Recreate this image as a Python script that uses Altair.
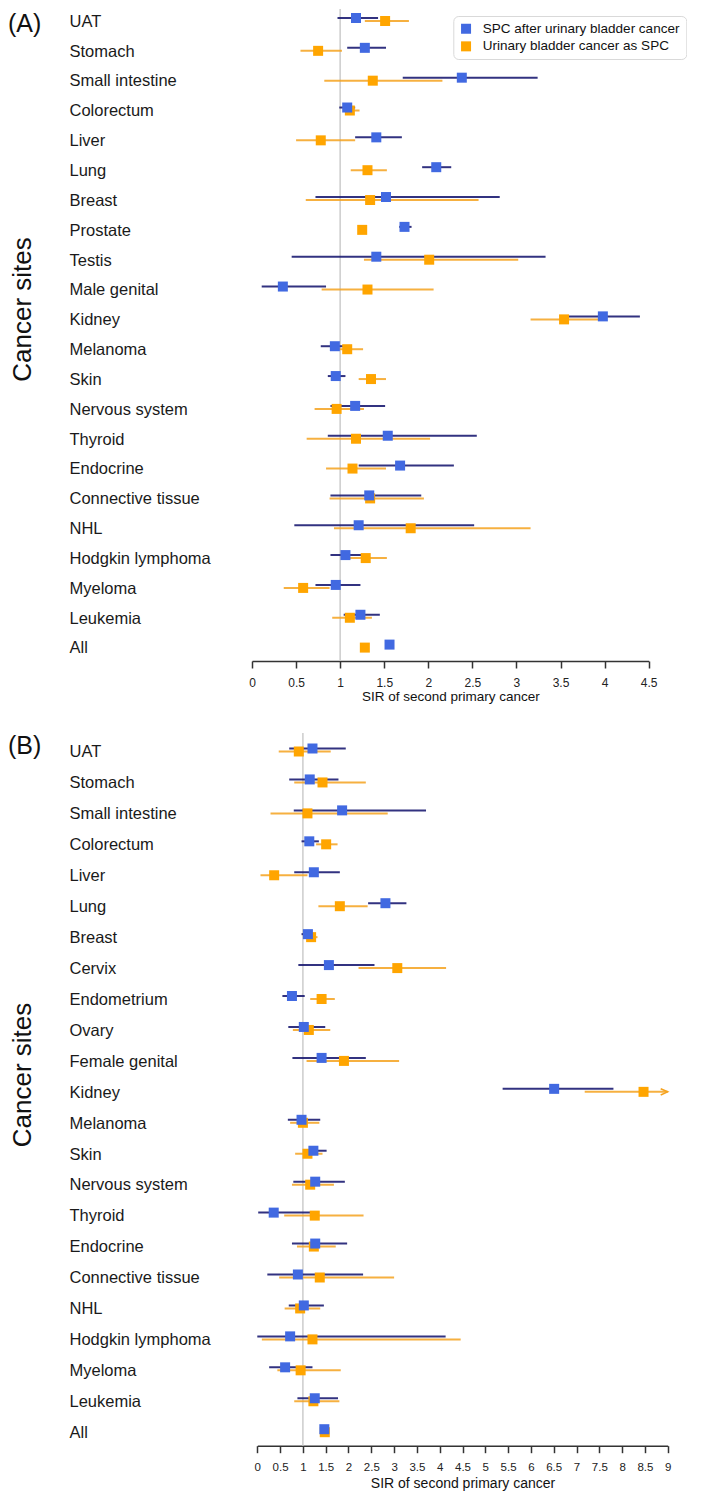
import altair as alt
import pandas as pd

SERIES = ["SPC after urinary bladder cancer", "Urinary bladder cancer as SPC"]
SQUARE_COLORS = ["#4169E1", "#FFA500"]
LINE_COLORS = ["#1c1c72", "#F5A21E"]

# ---------------- Panel A ----------------
sites_A = ["UAT", "Stomach", "Small intestine", "Colorectum", "Liver", "Lung", "Breast",
           "Prostate", "Testis", "Male genital", "Kidney", "Melanoma", "Skin",
           "Nervous system", "Thyroid", "Endocrine", "Connective tissue", "NHL",
           "Hodgkin lymphoma", "Myeloma", "Leukemia", "All"]
a_spc_est = [1.18, 1.28, 2.38, 1.08, 1.41, 2.09, 1.52, 1.73, 1.41, 0.35, 3.98, 0.94, 0.95,
             1.17, 1.54, 1.68, 1.33, 1.21, 1.06, 0.95, 1.23, 1.56]
a_spc_lo = [0.97, 1.08, 1.71, 0.99, 1.17, 1.93, 0.72, 1.67, 0.45, 0.11, 3.58, 0.78, 0.86,
            0.89, 0.86, 1.21, 0.89, 0.48, 0.89, 0.72, 1.04, 1.53]
a_spc_hi = [1.43, 1.52, 3.24, 1.17, 1.70, 2.26, 2.81, 1.81, 3.33, 0.84, 4.40, 1.10, 1.06,
            1.51, 2.55, 2.29, 1.92, 2.52, 1.26, 1.23, 1.45, 1.59]
a_ubc_est = [1.51, 0.75, 1.37, 1.11, 0.78, 1.31, 1.34, 1.25, 2.01, 1.31, 3.54, 1.08, 1.35,
             0.96, 1.18, 1.14, 1.34, 1.80, 1.29, 0.58, 1.11, 1.28]
a_ubc_lo = [1.28, 0.55, 0.82, 1.04, 0.50, 1.12, 0.61, 1.23, 1.27, 0.79, 3.16, 0.99, 1.21,
            0.71, 0.62, 0.84, 0.88, 0.93, 1.09, 0.36, 0.91, 1.26]
a_ubc_hi = [1.78, 1.02, 2.16, 1.22, 1.17, 1.53, 2.57, 1.27, 3.02, 2.06, 3.93, 1.26, 1.52,
            1.27, 2.02, 1.52, 1.95, 3.16, 1.53, 0.88, 1.36, 1.30]
ticks_A = [0, 0.5, 1, 1.5, 2, 2.5, 3, 3.5, 4, 4.5]

# ---------------- Panel B ----------------
sites_B = ["UAT", "Stomach", "Small intestine", "Colorectum", "Liver", "Lung", "Breast",
           "Cervix", "Endometrium", "Ovary", "Female genital", "Kidney", "Melanoma", "Skin",
           "Nervous system", "Thyroid", "Endocrine", "Connective tissue", "NHL",
           "Hodgkin lymphoma", "Myeloma", "Leukemia", "All"]
b_spc_est = [1.21, 1.15, 1.86, 1.14, 1.24, 2.81, 1.11, 1.57, 0.76, 1.02, 1.41, 6.51, 0.97,
             1.23, 1.27, 0.36, 1.27, 0.89, 1.02, 0.72, 0.61, 1.26, 1.47]
b_spc_lo = [0.70, 0.70, 0.80, 0.97, 0.81, 2.43, 0.97, 0.90, 0.55, 0.68, 0.77, 5.38, 0.67,
            1.01, 0.79, 0.02, 0.76, 0.22, 0.69, 0.00, 0.26, 0.88, 1.43]
b_spc_hi = [1.94, 1.78, 3.70, 1.35, 1.81, 3.27, 1.27, 2.57, 1.04, 1.49, 2.38, 7.81, 1.38,
            1.52, 1.92, 1.32, 1.97, 2.32, 1.46, 4.13, 1.21, 1.77, 1.51]
b_ubc_est = [0.91, 1.43, 1.10, 1.51, 0.37, 1.81, 1.18, 3.07, 1.41, 1.13, 1.90, 8.47, 1.00,
             1.10, 1.16, 1.26, 1.24, 1.37, 0.94, 1.21, 0.95, 1.23, 1.48]
b_ubc_lo = [0.47, 0.81, 0.29, 1.29, 0.07, 1.34, 1.07, 2.22, 1.16, 0.78, 1.08, 7.18, 0.72,
            0.83, 0.76, 0.59, 0.87, 0.48, 0.60, 0.10, 0.44, 0.81, 1.44]
b_ubc_hi = [1.61, 2.38, 2.86, 1.76, 1.10, 2.42, 1.32, 4.14, 1.70, 1.60, 3.11, 9.00, 1.36,
            1.43, 1.68, 2.33, 1.72, 3.00, 1.38, 4.46, 1.83, 1.80, 1.52]
ticks_B = [0, 0.5, 1, 1.5, 2, 2.5, 3, 3.5, 4, 4.5, 5, 5.5, 6, 6.5, 7, 7.5, 8, 8.5, 9]


def long_df(sites, e1, l1, h1, e2, l2, h2):
    rows = []
    for i, s in enumerate(sites):
        rows.append({"site": s, "series": SERIES[0], "est": e1[i], "lo": l1[i], "hi": h1[i]})
        rows.append({"site": s, "series": SERIES[1], "est": e2[i], "lo": l2[i], "hi": h2[i]})
    return pd.DataFrame(rows)


def panel(df, sites, letter, xmax, xticks, width, height, xrange, yrange, c):
    xscale = alt.Scale(domain=[0, xmax], nice=False, zero=False, range=xrange)
    xaxis = alt.Axis(values=xticks, format="~g", title="SIR of second primary cancer",
                     titleFont="Liberation Sans", titleFontSize=c["xtitle_fs"],
                     titleFontWeight="normal", titleColor="#111", titlePadding=c["xtitle_pad"],
                     labelFont=c["xlabel_font"], labelFontSize=c["xlabel_fs"], labelColor="#222",
                     labelPadding=9, tickSize=7, tickWidth=1.5, tickColor="#333",
                     domainColor="#333", domainWidth=1.5, grid=False, labelFlush=False,
                     labelOverlap=False)
    yaxis = alt.Axis(title="Cancer sites", titleAngle=270, titleX=c["title_x"],
                     titleY=c["title_y"], titleAlign="center", titleBaseline="alphabetic",
                     titleFont="Liberation Sans", titleFontSize=26, titleFontWeight="normal",
                     titleColor="#111", labelAlign="left", labelPadding=183,
                     labelFont="Liberation Sans", labelFontSize=16.5, labelColor="#1a1a1a",
                     labelOffset=1.8, labelLimit=300, ticks=False, tickSize=0, domain=False,
                     grid=False)
    yenc = alt.Y("site:N", sort=sites,
                 scale=alt.Scale(type="point", range=yrange, padding=0), axis=yaxis)
    legend = alt.Legend(title=None, orient="none", legendX=c["leg_x"], legendY=c["leg_y"],
                        symbolType="square", symbolSize=100, symbolStrokeWidth=0,
                        symbolOpacity=1, labelFont="Liberation Sans", labelFontSize=c["leg_fs"],
                        labelColor="#111", labelLimit=400, padding=c["leg_pad"],
                        rowPadding=c["leg_row"], labelOffset=10, strokeColor="#d9d9d9",
                        cornerRadius=5, fillColor="white")
    color = alt.Color("series:N", scale=alt.Scale(domain=SERIES, range=SQUARE_COLORS),
                      legend=legend)

    base = alt.Chart(df)
    ref = alt.Chart(pd.DataFrame({"ref": [1.0]})).mark_rule(
        color="#cccccc", strokeWidth=1.5).encode(
        x=alt.X("ref:Q", scale=xscale, axis=xaxis))
    ci_spc = base.transform_filter(alt.datum.series == SERIES[0]).mark_rule(
        color=LINE_COLORS[0], strokeWidth=2, opacity=0.9, yOffset=-1.5).encode(
        x=alt.X("lo:Q", scale=xscale, axis=xaxis), x2="hi:Q", y=yenc)
    ci_ubc = base.transform_filter(alt.datum.series == SERIES[1]).mark_rule(
        color=LINE_COLORS[1], strokeWidth=2, opacity=0.85, yOffset=1.5).encode(
        x=alt.X("lo:Q", scale=xscale, axis=xaxis), x2="hi:Q", y=yenc)
    sq_ubc = base.transform_filter(alt.datum.series == SERIES[1]).mark_square(
        size=100, opacity=1, yOffset=1.5).encode(
        x=alt.X("est:Q", scale=xscale, axis=xaxis), y=yenc, color=color)
    sq_spc = base.transform_filter(alt.datum.series == SERIES[0]).mark_square(
        size=100, opacity=1, yOffset=-1.5).encode(
        x=alt.X("est:Q", scale=xscale, axis=xaxis), y=yenc, color=color)
    arrow = base.transform_filter(
        (alt.datum.series == SERIES[1]) & (alt.datum.hi >= xmax)).mark_point(
        shape="M-2,-0.9L0,0L-2,0.9", filled=False, size=49, strokeWidth=1.5,
        color=LINE_COLORS[1], opacity=1, yOffset=1.5).encode(
        x=alt.X("hi:Q", scale=xscale, axis=xaxis), y=yenc)
    tag = alt.Chart(pd.DataFrame({"lab": [letter]})).mark_text(
        align="left", baseline="middle", font="Liberation Sans", fontSize=25,
        color="#111").encode(text="lab:N", x=alt.value(-244), y=alt.value(c["tag_y"]))

    return alt.layer(ref, ci_spc, ci_ubc, sq_ubc, sq_spc, arrow, tag).properties(
        width=width, height=height)


df_A = long_df(sites_A, a_spc_est, a_spc_lo, a_spc_hi, a_ubc_est, a_ubc_lo, a_ubc_hi)
df_B = long_df(sites_B, b_spc_est, b_spc_lo, b_spc_hi, b_ubc_est, b_ubc_lo, b_ubc_hi)

cfg_A = dict(xtitle_fs=13.5, xtitle_pad=1.5, xlabel_font="Liberation Sans", xlabel_fs=12,
             title_x=-222, title_y=300, leg_x=201.3, leg_y=7.0, leg_fs=13.5,
             leg_pad=6, leg_row=2.6, tag_y=14.5)
cfg_B = dict(xtitle_fs=14, xtitle_pad=3,
             xlabel_font="'Liberation Sans Narrow', 'Arial Narrow', 'Liberation Sans'",
             xlabel_fs=11.5, title_x=-222, title_y=341.5, leg_x=214.7,
             leg_y=15.7, leg_fs=14, leg_pad=5.3, leg_row=4, tag_y=12.5)

panel_A = panel(df_A, sites_A, "(A)", 4.5, ticks_A, 396.7, 652, [0, 396.7],
                [10.5, 637.1], cfg_A)
panel_B = panel(df_B, sites_B, "(B)", 9, ticks_B, 415.7, 712.7, [5.3, 415.7],
                [17, 697.7], cfg_B)

chart = alt.vconcat(panel_A, panel_B, spacing=29).properties(
    padding={"left": 0, "top": 0, "right": 0, "bottom": 0}
).configure(background="white").configure_view(stroke=None)

chart.save("out.html", embed_options={"renderer": "svg", "actions": False})
